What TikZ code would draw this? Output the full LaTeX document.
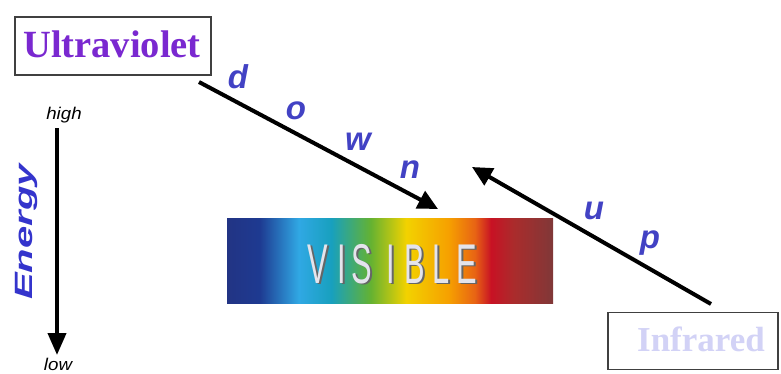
\documentclass[tikz,border=0pt]{standalone}
\usepackage{fontspec}
\setmainfont{Liberation Serif}
\setsansfont{Liberation Sans}
\usetikzlibrary{arrows.meta}
\definecolor{uvpurple}{RGB}{122,40,208}
\definecolor{irlav}{RGB}{210,210,246}
\definecolor{letblue}{RGB}{66,66,196}
\definecolor{energyblue}{RGB}{52,52,204}
\definecolor{s0}{RGB}{34,52,132}
\definecolor{s1}{RGB}{30,58,145}
\definecolor{s2}{RGB}{48,168,228}
\definecolor{s3}{RGB}{24,160,190}
\definecolor{s4}{RGB}{100,178,50}
\definecolor{s5}{RGB}{242,210,0}
\definecolor{s6}{RGB}{246,160,0}
\definecolor{s7}{RGB}{232,100,20}
\definecolor{s8}{RGB}{200,18,36}
\definecolor{s9}{RGB}{170,44,44}
\definecolor{s10}{RGB}{128,56,56}
\pgfdeclarehorizontalshading{spectrum}{100bp}{color(0bp)=(s0); color(25bp)=(s0); color(30bp)=(s1); color(36bp)=(s2); color(41bp)=(s3); color(47bp)=(s4); color(52.5bp)=(s5); color(59bp)=(s6); color(63bp)=(s7); color(65.5bp)=(s8); color(69bp)=(s9); color(75bp)=(s10); color(100bp)=(s10)}
\tikzset{
  bandbox/.style={draw=black!75, line width=1.2pt, fill=white, inner sep=0pt},
  bigarrow/.style={line width=4pt, -{Triangle[length=20pt,width=19pt]}},
  dirletter/.style={text=letblue, font=\sffamily\bfseries\itshape\fontsize{33}{33}\selectfont, inner sep=0pt},
  smalllabel/.style={font=\sffamily\itshape\fontsize{17}{17}\selectfont, inner sep=0pt, xscale=1.1},
  vislet/.style={font=\sffamily\fontsize{56}{56}\selectfont, xscale=0.55, inner sep=0pt, anchor=base},
}
\begin{document}
\begin{tikzpicture}[x=1pt,y=-1pt]
\useasboundingbox (0,0) rectangle (781,373);
% boxes
\node[bandbox, minimum width=196pt, minimum height=58pt] (uv) at (113,46) {};
\node[text=uvpurple, font=\bfseries\fontsize{38.5}{38.5}\selectfont, inner sep=0pt] (uvt) at (112,44) {Ultraviolet};
\node[bandbox, minimum width=170pt, minimum height=57pt] (ir) at (693,341) {};
\node[text=irlav, font=\bfseries\fontsize{35}{35}\selectfont, inner sep=0pt] (irt) at (701,339) {Infrared};
% spectrum
\node[minimum width=326pt, minimum height=85pt, inner sep=0pt, shading=spectrum] (spec) at (390,260.5) {};
\foreach \l/\x [count=\i] in {V/318,I/342,S/362,I/391,B/415,L/441,E/467}{
  \node[vislet, text=black!60] (vs\i) at (\x+1.6,284.6) {\l};
  \node[vislet, text={rgb,255:red,228;green,228;blue,236}] (v\i) at (\x,283) {\l};
}
% arrows
\coordinate (ds) at (199,82);
\coordinate (de) at (438,209);
\draw[bigarrow] (ds) -- (de);
\coordinate (us) at (711,304);
\coordinate (ue) at (472,167);
\draw[bigarrow] (us) -- (ue);
% letters
\node[dirletter] (ld) at (238,77) {d};
\node[dirletter] (lo) at (296,111) {o};
\node[dirletter] (lw) at (358,142) {w};
\node[dirletter] (ln) at (410,170) {n};
\node[dirletter] (lu) at (594,211) {u};
\node[dirletter] (lp) at (650,243) {p};
% energy
\node[smalllabel] (hi) at (64,115) {high};
\node[smalllabel] (lo2) at (58,364) {low};
\draw[line width=4pt, -{Triangle[length=22pt,width=18pt]}] (hi.south -| 57,0) ++(0,5) coordinate (es) -- (57,355) coordinate (ee);
\node[rotate=90, text=energyblue, font=\sffamily\bfseries\itshape\fontsize{25}{25}\selectfont, inner sep=0pt, xscale=1.6] (en) at (26,232) {Energy};
\end{tikzpicture}
\end{document}
